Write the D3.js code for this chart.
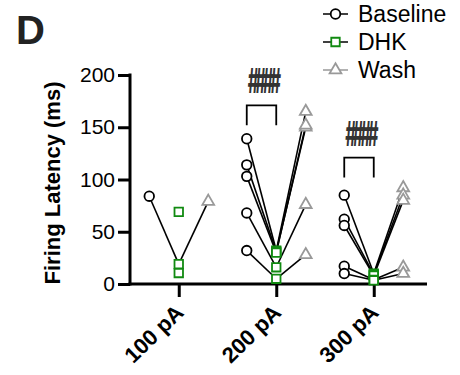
<!DOCTYPE html>
<html><head><meta charset="utf-8">
<script src="https://cdn.jsdelivr.net/npm/d3@7"></script>
<style>body{margin:0;background:#fff}text{font-family:"Liberation Sans",Arial,sans-serif}</style>
</head><body><svg id="c" width="460" height="375"></svg>
<script>
const currents = ["100 pA", "200 pA", "300 pA"];
const conditions = ["Baseline", "DHK", "Wash"];
const yTicks = [0, 50, 100, 150, 200];
// paired cells per current: [baseline, dhk, wash]
const cells100 = [[84, 19, 79], [null, 69, null], [null, 10.5, null]];
const cells200 = [[139, 32, 165], [114, 31, 150], [103, 30, 152], [68, 16, 76], [32, 5, 28]];
const cells300 = [[85, 10, 92], [62, 9, 85], [56, 8, 80], [17, 4, 16], [10, 3.5, 10]];
const sigLabels = ["", "####", "####"];
const sigBracketTop = [null, 171, 121];
const sigBracketBottom = [null, 152, 102];

const cellsByCurrent = [cells100, cells200, cells300];
const colors = {Baseline: "#000", DHK: "#118a11", Wash: "#999"};

const svg = d3.select("#c");
const x = d3.scalePoint().domain(currents).range([130, 422.5]).padding(0.5);
const off = d3.scalePoint().domain(conditions).range([-29.5, 29.5]);
const y = d3.scaleLinear().domain([0, 200]).range([284, 75]);

// axes
const ya = svg.append("g").attr("transform", "translate(130,0)")
  .call(d3.axisLeft(y).tickValues(yTicks).tickSize(12).tickPadding(3));
ya.select(".domain").remove();
ya.selectAll(".tick line").attr("stroke", "#000").attr("stroke-width", 3);
ya.selectAll(".tick text").attr("font-size", 21).attr("fill", "#000");
svg.append("line").attr("x1", 130).attr("x2", 130).attr("y1", y(200) - 1.5).attr("y2", y(0) + 1.5)
  .attr("stroke", "#000").attr("stroke-width", 3);

const xa = svg.append("g").attr("transform", "translate(0,284)")
  .call(d3.axisBottom(x).tickSize(13).tickPadding(4));
xa.select(".domain").remove();
xa.selectAll(".tick line").attr("stroke", "#000").attr("stroke-width", 3);
xa.selectAll(".tick text").attr("font-size", 22).attr("font-weight", "bold").attr("fill", "#000")
  .attr("text-anchor", "end").attr("dy", 0)
  .attr("transform", "translate(-6,18) rotate(-44)");
svg.append("line").attr("x1", 128.5).attr("x2", 427).attr("y1", 284).attr("y2", 284)
  .attr("stroke", "#000").attr("stroke-width", 3);

// y title
svg.append("text").attr("transform", "translate(60,183) rotate(-90)")
  .attr("text-anchor", "middle").attr("font-size", 22).attr("font-weight", "bold")
  .text("Firing Latency (ms)");

// panel letter
svg.append("text").attr("x", 16).attr("y", 44).attr("font-size", 40).attr("font-weight", "bold")
  .attr("fill", "#222").text("D");

// lines
const lineG = svg.append("g");
cellsByCurrent.forEach((cells, ci) => {
  const cx = x(currents[ci]);
  cells.forEach(c => {
    for (let k = 0; k < 2; k++) {
      if (c[k] != null && c[k + 1] != null) {
        lineG.append("line")
          .attr("x1", cx + off(conditions[k])).attr("y1", y(c[k]))
          .attr("x2", cx + off(conditions[k + 1])).attr("y2", y(c[k + 1]))
          .attr("stroke", "#000").attr("stroke-width", 1.6);
      }
    }
  });
});

const sym = {
  Baseline: d3.symbol().type(d3.symbolCircle).size(72),
  DHK: d3.symbol().type(d3.symbolSquare).size(72),
  Wash: d3.symbol().type(d3.symbolTriangle).size(60)
};
function drawMarker(g, cond, px, py) {
  g.append("path").attr("d", sym[cond]()).attr("transform", `translate(${px},${py})`)
    .attr("fill", "#fff").attr("stroke", colors[cond]).attr("stroke-width", 1.8);
}
const markG = svg.append("g");
conditions.forEach((cond, k) => {
  cellsByCurrent.forEach((cells, ci) => {
    cells.forEach(c => {
      if (c[k] != null) drawMarker(markG, cond, x(currents[ci]) + off(cond), y(c[k]));
    });
  });
});

// significance
currents.forEach((cur, ci) => {
  if (!sigLabels[ci]) return;
  const x0 = x(cur) + off("Baseline"), x1 = x(cur) + off("DHK");
  svg.append("path")
    .attr("d", `M${x0},${y(sigBracketBottom[ci])}V${y(sigBracketTop[ci])}H${x1}V${y(sigBracketBottom[ci])}`)
    .attr("fill", "none").attr("stroke", "#000").attr("stroke-width", 1.8);
  const ty = y(sigBracketTop[ci]) - 12;
  svg.append("text").attr("transform", `translate(${(x0 + x1) / 2 + 1},${ty}) scale(1,2)`)
    .attr("text-anchor", "middle").attr("font-size", 17).attr("font-weight", "bold")
    .style("font-family", "Inter, 'DejaVu Sans', sans-serif")
    .attr("letter-spacing", -3.6).attr("fill", "#333")
    .text(sigLabels[ci]);
});

// legend
const lg = svg.append("g");
conditions.forEach((cond, i) => {
  const ly = 14 + i * 28;
  lg.append("line").attr("x1", 323).attr("x2", 348).attr("y1", ly).attr("y2", ly)
    .attr("stroke", cond === "Wash" ? "#999" : "#000").attr("stroke-width", 1.5);
  drawMarker(lg, cond, 335.5, ly);
  lg.append("text").attr("x", 358).attr("y", ly + 8).attr("font-size", 23).attr("fill", "#000").text(cond);
});
</script></body></html>
